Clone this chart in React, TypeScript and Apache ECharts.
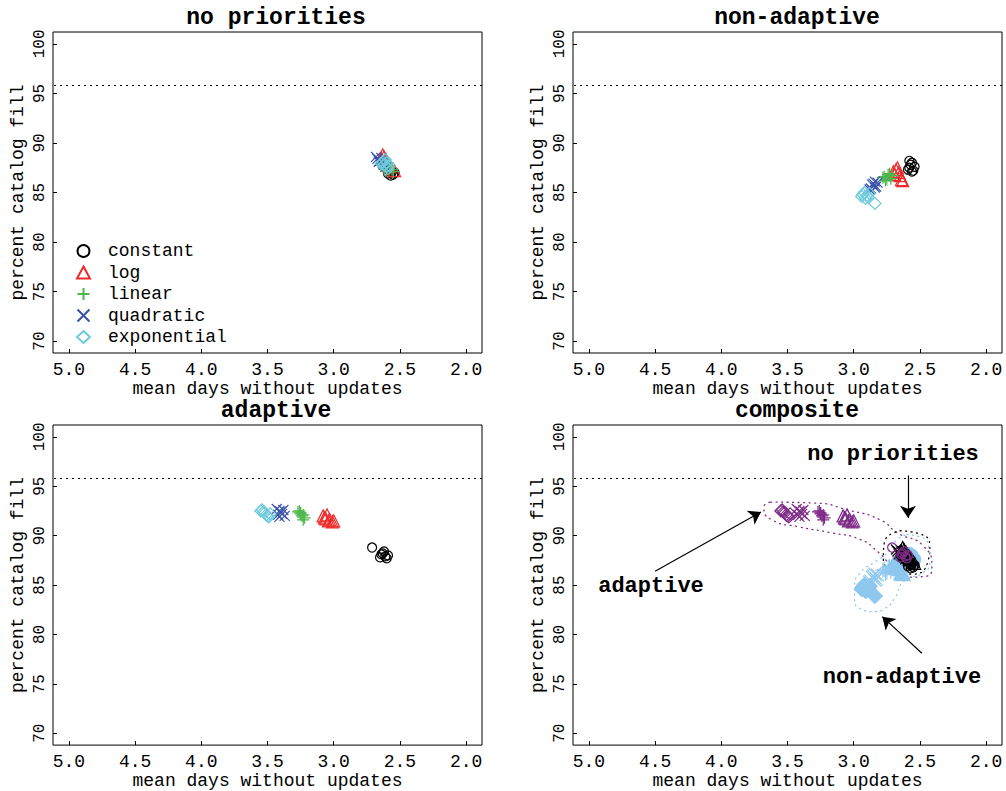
import React, { useEffect, useRef } from "react";
import * as echarts from "echarts";

const FONT = "'Liberation Mono', 'DejaVu Sans Mono', monospace";

const panelTitles = ["no priorities", "non-adaptive", "adaptive", "composite"];
const methods = ["constant", "log", "linear", "quadratic", "exponential"];
const xTicks = [2.0, 2.5, 3.0, 3.5, 4.0, 4.5, 5.0];
const yTicks = [70, 75, 80, 85, 90, 95, 100];
const targetFill = 95.8;

// no priorities
const noPriConstant = [[2.57, 87.0], [2.55, 86.8], [2.58, 87.3], [2.56, 87.1], [2.59, 86.9], [2.54, 87.0], [2.6, 87.4], [2.57, 86.7]];
const noPriLog = [[2.62, 88.6], [2.6, 88.2], [2.63, 88.8], [2.58, 87.6], [2.54, 87.2], [2.61, 88.0], [2.59, 87.8], [2.64, 88.4]];
const noPriLinear = [[2.6, 87.2], [2.58, 87.5], [2.63, 87.9], [2.56, 87.3], [2.61, 87.6], [2.59, 88.0], [2.62, 87.4], [2.55, 87.1]];
const noPriQuadratic = [[2.67, 88.4], [2.65, 88.2], [2.63, 88.0], [2.68, 88.6], [2.62, 87.8], [2.64, 88.5], [2.66, 88.1], [2.61, 87.6]];
const noPriExponential = [[2.62, 87.8], [2.6, 87.6], [2.63, 88.1], [2.59, 87.4], [2.61, 88.3], [2.64, 87.9], [2.58, 87.7], [2.6, 88.0]];

// non-adaptive
const nonAdConstant = [[2.56, 88.0], [2.58, 87.5], [2.55, 87.2], [2.57, 87.8], [2.59, 87.3], [2.54, 87.6], [2.56, 87.1], [2.58, 88.2]];
const nonAdLog = [[2.68, 87.3], [2.66, 87.0], [2.69, 86.8], [2.64, 86.3], [2.67, 87.5], [2.65, 86.7], [2.63, 86.2], [2.7, 87.1]];
const nonAdLinear = [[2.77, 86.6], [2.74, 86.8], [2.72, 86.4], [2.76, 86.2], [2.73, 86.9], [2.78, 86.5], [2.75, 86.3], [2.71, 86.7]];
const nonAdQuadratic = [[2.86, 85.8], [2.84, 85.5], [2.82, 86.0], [2.87, 85.4], [2.85, 85.9], [2.83, 85.6], [2.88, 85.3], [2.84, 86.1]];
const nonAdExponential = [[2.92, 85.0], [2.9, 84.7], [2.94, 84.6], [2.88, 84.9], [2.91, 84.4], [2.84, 83.9], [2.93, 84.8], [2.89, 84.5]];

// adaptive
const adConstant = [[2.71, 88.8], [2.63, 88.2], [2.61, 87.9], [2.65, 87.8], [2.59, 88.0], [2.62, 88.4], [2.6, 87.7], [2.64, 88.1]];
const adLog = [[3.08, 92.0], [3.06, 91.7], [3.04, 91.5], [3.01, 91.4], [3.07, 91.8], [3.05, 92.1], [3.03, 91.6], [3.0, 91.5]];
const adLinear = [[3.25, 92.3], [3.23, 92.1], [3.26, 92.5], [3.22, 91.8], [3.24, 92.0], [3.27, 92.4], [3.23, 91.6], [3.25, 92.2]];
const adQuadratic = [[3.41, 92.5], [3.39, 92.2], [3.43, 92.7], [3.37, 92.0], [3.4, 92.4], [3.42, 92.1], [3.38, 92.6], [3.41, 91.9]];
const adExponential = [[3.53, 92.4], [3.51, 92.1], [3.55, 92.5], [3.49, 91.9], [3.52, 92.3], [3.5, 92.0], [3.54, 92.6], [3.48, 92.2]];

// composite outlines (hull vertices, data coordinates)
const adaptiveHull = [[3.627, 93.4], [3.291, 93.3], [3.045, 92.6], [2.799, 91.6], [2.672, 90.3], [2.47, 88.9], [2.41, 86.9], [2.448, 85.9], [2.597, 85.8], [2.821, 88.4], [2.948, 89.6], [3.172, 90.3], [3.418, 90.9], [3.619, 91.6], [3.679, 92.9], [3.627, 93.4]];
const noPriHull = [[2.649, 90.5], [2.507, 90.2], [2.425, 88.9], [2.44, 87.4], [2.56, 86.1], [2.687, 86.5], [2.776, 87.6], [2.769, 89.3], [2.649, 90.5]];
const nonAdHull = [[2.597, 90.1], [2.5, 89.9], [2.433, 88.8], [2.425, 87.4], [2.47, 86.3], [2.619, 85.4], [2.694, 83.6], [2.769, 82.6], [2.843, 82.3], [2.948, 82.6], [2.993, 83.6], [2.993, 84.9], [2.948, 86.3], [2.843, 87.3], [2.746, 88.3], [2.672, 89.6], [2.597, 90.1]];

// annotation arrows [from, to]
const noPriArrow = [[2.59, 96.1], [2.59, 91.8]];
const adaptiveArrow = [[4.5, 86.4], [3.7, 92.4]];
const nonAdArrow = [[2.485, 78.1], [2.784, 81.8]];

const noPri = [noPriConstant, noPriLog, noPriLinear, noPriQuadratic, noPriExponential];
const nonAd = [nonAdConstant, nonAdLog, nonAdLinear, nonAdQuadratic, nonAdExponential];
const ad = [adConstant, adLog, adLinear, adQuadratic, adExponential];

const colors = ["#000000", "#ee2a2a", "#4cb84c", "#3a52a8", "#6ecbdc"];
const purple = "#7e2b88";
const lightBlue = "#8ec8ee";
const symbols = [
  "circle",
  "triangle",
  "path://M5,0L5,10M0,5L10,5",
  "path://M0,0L10,10M10,0L0,10",
  "diamond",
];
const sizes = [9, 12, 12, 10, 12];

const grids = [
  { left: 53, top: 32, width: 429, height: 321 },
  { left: 573, top: 32, width: 429, height: 321 },
  { left: 53, top: 425, width: 429, height: 321 },
  { left: 573, top: 425, width: 429, height: 321 },
];

function makeOption() {
  const xAxis = grids.map((_, i) => ({
    type: "value",
    gridIndex: i,
    min: 1.88,
    max: 5.12,
    inverse: true,
    name: "mean days without updates",
    nameLocation: "middle",
    nameGap: 21,
    nameTextStyle: { fontFamily: FONT, fontSize: 18, color: "#000" },
    axisLine: { show: false },
    splitLine: { show: false },
    axisTick: { inside: true, length: 4, customValues: xTicks, lineStyle: { color: "#000" } },
    axisLabel: {
      customValues: xTicks,
      formatter: (v: number) => v.toFixed(1),
      fontFamily: FONT,
      fontSize: 18,
      color: "#000",
      margin: 8,
    },
  }));
  const yAxis = grids.map((_, i) => ({
    type: "value",
    gridIndex: i,
    min: 68.8,
    max: 101.2,
    name: "percent catalog fill",
    nameLocation: "middle",
    nameRotate: 90,
    nameGap: 26,
    nameTextStyle: { fontFamily: FONT, fontSize: 18, color: "#000" },
    axisLine: { show: false },
    splitLine: { show: false },
    axisTick: { inside: true, length: 4, customValues: yTicks, lineStyle: { color: "#000" } },
    axisLabel: {
      customValues: yTicks,
      rotate: 90,
      fontFamily: FONT,
      fontSize: 16,
      color: "#000",
      margin: 5,
    },
  }));

  const series: any[] = [];
  const scatter = (name: string, data: number[][], k: number, gi: number, color: string, fill = "transparent", grow = 0) => ({
    type: "scatter",
    name,
    xAxisIndex: gi,
    yAxisIndex: gi,
    data,
    symbol: symbols[k],
    symbolSize: sizes[k] + grow,
    itemStyle: { color: fill, borderColor: color, borderWidth: 1.2, opacity: 1 },
    z: 3,
  });
  for (let gi = 0; gi < 4; gi++) {
    series.push({
      type: "line",
      name: "target" + gi,
      xAxisIndex: gi,
      yAxisIndex: gi,
      data: [],
      markLine: {
        silent: true,
        symbol: "none",
        label: { show: false },
        lineStyle: { color: "#000", type: [2, 4], width: 1.2 },
        data: [{ yAxis: targetFill }],
      },
    });
  }
  methods.forEach((m, k) => series.push(scatter(m, noPri[k], k, 0, colors[k])));
  methods.forEach((m, k) => series.push(scatter("na-" + m, nonAd[k], k, 1, colors[k])));
  methods.forEach((m, k) => series.push(scatter("ad-" + m, ad[k], k, 2, colors[k])));
  // composite
  methods.forEach((m, k) =>
    series.push(scatter("c-na-" + m, nonAd[k], k, 3, lightBlue, k === 2 || k === 3 ? "transparent" : lightBlue, 3))
  );
  methods.forEach((m, k) => series.push(scatter("c-np-" + m, noPri[k], k, 3, "#000")));
  methods.forEach((m, k) => series.push(scatter("c-ad-" + m, ad[k], k, 3, purple)));

  const hull = (name: string, data: number[][], color: string) => ({
    type: "line",
    name,
    xAxisIndex: 3,
    yAxisIndex: 3,
    data,
    smooth: 0.6,
    showSymbol: false,
    symbol: "none",
    lineStyle: { color, width: 1.3, type: [1, 4.5], cap: "round" },
    z: 2,
  });
  series.push(hull("hull-ad", adaptiveHull, purple));
  series.push(hull("hull-np", noPriHull, "#000"));
  series.push(hull("hull-na", nonAdHull, lightBlue));

  series.push({
    type: "line",
    name: "arrows",
    xAxisIndex: 3,
    yAxisIndex: 3,
    data: [],
    color: "#000",
    markLine: {
      silent: true,
      symbol: ["none", "arrow"],
      symbolSize: 12,
      label: { show: false },
      itemStyle: { color: "#000" },
      lineStyle: { color: "#000", type: "solid", width: 1.2 },
      data: [noPriArrow, adaptiveArrow, nonAdArrow].map((a) => [
        { coord: a[0] },
        { coord: a[1] },
      ]),
    },
  });

  const titleCenters = [
    [271, 1],
    [792, 1],
    [271, 394],
    [792, 394],
  ];
  const title = panelTitles.map((t, i) => ({
    text: t,
    left: titleCenters[i][0],
    top: titleCenters[i][1],
    textAlign: "center",
    textStyle: { fontFamily: FONT, fontSize: 23, fontWeight: "bold", color: "#000" },
  }));

  const annoStyle = { fontFamily: FONT, fontSize: 22, fontWeight: "bold", fill: "#000" };
  const graphic = [
    { type: "text", x: 893, y: 454, style: { ...annoStyle, text: "no priorities", align: "center", verticalAlign: "middle" } },
    { type: "text", x: 651, y: 586, style: { ...annoStyle, text: "adaptive", align: "center", verticalAlign: "middle" } },
    { type: "text", x: 902, y: 677, style: { ...annoStyle, text: "non-adaptive", align: "center", verticalAlign: "middle" } },
  ];

  return {
    animation: false,
    backgroundColor: "#fff",
    title,
    grid: grids.map((g) => ({ ...g, show: true, borderColor: "#000", borderWidth: 1, backgroundColor: "transparent" })),
    xAxis,
    yAxis,
    legend: {
      data: methods,
      orient: "vertical",
      left: 71,
      top: 237,
      itemWidth: 13,
      itemHeight: 12,
      itemGap: 3.5,
      selectedMode: false,
      textStyle: { fontFamily: FONT, fontSize: 18, color: "#000", padding: [0, 0, 0, 13] },
    },
    graphic,
    series,
  };
}

export default function App() {
  const ref = useRef<HTMLDivElement>(null);
  useEffect(() => {
    if (!ref.current) return;
    const chart = echarts.init(ref.current, undefined, { renderer: "svg" });
    chart.setOption(makeOption() as any);
    return () => chart.dispose();
  }, []);
  return (
    <div
      ref={ref}
      style={{ position: "fixed", left: 0, top: 0, width: 1006, height: 791, background: "#fff" }}
    />
  );
}
